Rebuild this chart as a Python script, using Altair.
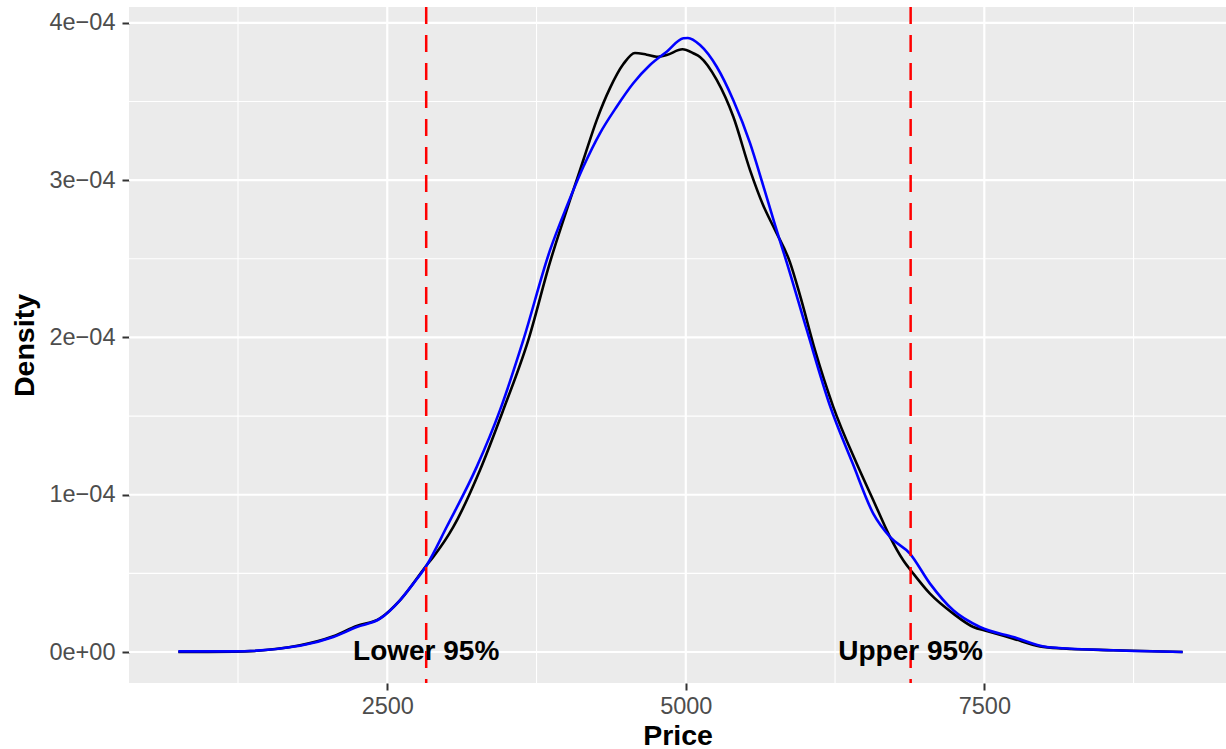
import altair as alt
import pandas as pd

# Black density curve (Price, Density)
black_price = [750, 1210, 1769, 2048, 2244, 2439, 2606, 2830, 2885, 3053, 3276, 3471, 3681,
               3863, 4030, 4142, 4254, 4365, 4477, 4574, 4672, 4756, 4840, 4972, 5063, 5119,
               5259, 5398, 5538, 5647, 5747, 5872, 5956, 6082, 6235, 6431, 6570, 6710, 6821,
               6905, 7045, 7240, 7408, 7520, 7743, 7966, 8161, 8580, 9161]
black_dens = [0.0, 0.002e-4, 0.043e-4, 0.10e-4, 0.165e-4, 0.214e-4, 0.329e-4, 0.552e-4,
              0.604e-4, 0.795e-4, 1.156e-4, 1.538e-4, 1.983e-4, 2.479e-4, 2.873e-4, 3.128e-4,
              3.382e-4, 3.585e-4, 3.738e-4, 3.809e-4, 3.798e-4, 3.785e-4, 3.796e-4, 3.832e-4,
              3.807e-4, 3.783e-4, 3.637e-4, 3.403e-4, 3.064e-4, 2.842e-4, 2.683e-4, 2.479e-4,
              2.269e-4, 1.919e-4, 1.559e-4, 1.198e-4, 0.965e-4, 0.732e-4, 0.583e-4, 0.499e-4,
              0.371e-4, 0.244e-4, 0.159e-4, 0.134e-4, 0.085e-4, 0.036e-4, 0.022e-4, 0.011e-4, 0.0]

# Blue density curve (Price, Density)
blue_price = [750, 1210, 1769, 2048, 2244, 2439, 2606, 2718, 2830, 2997, 3249, 3444, 3639,
              3863, 4002, 4142, 4281, 4421, 4560, 4700, 4840, 4979, 5018, 5119, 5259, 5398,
              5538, 5647, 5747, 5847, 6014, 6206, 6398, 6570, 6710, 6877, 7045,
              7240, 7463, 7743, 8022, 8580, 9161]
blue_dens = [0.004e-4, 0.004e-4, 0.04e-4, 0.095e-4, 0.159e-4, 0.212e-4, 0.329e-4, 0.435e-4,
             0.552e-4, 0.795e-4, 1.177e-4, 1.538e-4, 1.983e-4, 2.555e-4, 2.831e-4, 3.085e-4,
             3.298e-4, 3.467e-4, 3.616e-4, 3.732e-4, 3.817e-4, 3.902e-4, 3.904e-4, 3.859e-4,
             3.721e-4, 3.508e-4, 3.236e-4, 2.969e-4, 2.715e-4, 2.473e-4, 2.046e-4, 1.569e-4,
             1.198e-4, 0.880e-4, 0.732e-4, 0.626e-4, 0.435e-4, 0.265e-4,
             0.159e-4, 0.095e-4, 0.032e-4, 0.011e-4, 0.0]

# 95% bounds and labels
bound_price = [2826, 6883]
bound_label = ["Lower 95%", "Upper 95%"]
label_dens = [0.0, 0.0]

# Axis ticks / grid
x_major = [2500, 5000, 7500]
x_minor = [1250, 3750, 6250, 8750]
y_major = [0, 1e-4, 2e-4, 3e-4, 4e-4]
y_minor = [0.5e-4, 1.5e-4, 2.5e-4, 3.5e-4]

df_black = pd.DataFrame({"Price": black_price, "Density": black_dens})
df_blue = pd.DataFrame({"Price": blue_price, "Density": blue_dens})
df_bounds = pd.DataFrame({"Price": bound_price, "label": bound_label, "Density": label_dens})
df_xmaj = pd.DataFrame({"Price": x_major})
df_xmin = pd.DataFrame({"Price": x_minor})
df_ymaj = pd.DataFrame({"Density": y_major})
df_ymin = pd.DataFrame({"Density": y_minor})

FONT = "Liberation Sans"
x_scale = alt.Scale(domain=[337, 9524], nice=False, zero=False)
y_scale = alt.Scale(domain=[-0.197e-4, 4.101e-4], nice=False, zero=False)

x_axis = alt.Axis(values=x_major, format="d", title="Price", grid=False, domain=False,
                  tickColor="#333333", tickSize=7, tickWidth=2,
                  labelColor="#4D4D4D", labelFontSize=23.5, labelFont=FONT, labelPadding=4,
                  titleFont=FONT, titleFontSize=28.5, titleFontWeight="bold",
                  titleColor="black", titlePadding=4)
y_axis = alt.Axis(values=y_major, title="Density", grid=False, domain=False,
                  labelExpr="datum.value == 0 ? '0e+00' : format(round(datum.value*10000),'d') + 'e\u221204'",
                  tickColor="#333333", tickSize=7, tickWidth=2,
                  labelColor="#4D4D4D", labelFontSize=23.5, labelFont=FONT, labelPadding=7,
                  titleFont=FONT, titleFontSize=28.5, titleFontWeight="bold",
                  titleColor="black", titlePadding=9)

X = lambda: alt.X("Price:Q", scale=x_scale, axis=x_axis)
Y = lambda: alt.Y("Density:Q", scale=y_scale, axis=y_axis)

xmin_l = alt.Chart(df_xmin).mark_rule(color="white", strokeWidth=1.1).encode(x=X())
ymin_l = alt.Chart(df_ymin).mark_rule(color="white", strokeWidth=1.1).encode(y=Y())
xmaj_l = alt.Chart(df_xmaj).mark_rule(color="white", strokeWidth=2.2).encode(x=X())
ymaj_l = alt.Chart(df_ymaj).mark_rule(color="white", strokeWidth=2.2).encode(y=Y())

black_l = alt.Chart(df_black).mark_line(color="black", strokeWidth=2.6,
                                        interpolate="monotone").encode(x=X(), y=Y())
blue_l = alt.Chart(df_blue).mark_line(color="#0000FF", strokeWidth=2.6,
                                      interpolate="monotone").encode(x=X(), y=Y())
vline_l = alt.Chart(df_bounds).mark_rule(color="#FF0000", strokeWidth=2.5,
                                         strokeDash=[17, 11]).encode(x=X())
text_l = alt.Chart(df_bounds).mark_text(font=FONT, fontSize=28, fontWeight="bold",
                                        color="black", align="center",
                                        baseline="middle").encode(x=X(), y=Y(), text="label:N")

chart = alt.layer(xmin_l, ymin_l, xmaj_l, ymaj_l, black_l, blue_l, vline_l, text_l).properties(
    width=1097, height=676,
    autosize=alt.AutoSizeParams(type="none"),
    padding={"left": 129, "top": 7, "right": 0, "bottom": 66},
    background="white",
).configure_view(fill="#EBEBEB", strokeWidth=0)

chart.save("out.html", embed_options={"renderer": "svg", "actions": False})
